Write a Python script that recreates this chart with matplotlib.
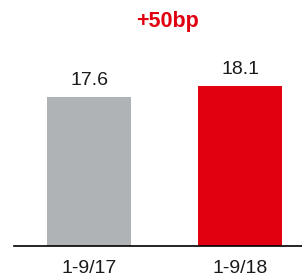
import matplotlib
matplotlib.use('Agg')
import matplotlib.pyplot as plt

periods = ['1-9/17', '1-9/18']
values = [17.6, 18.1]
colors = ['#B0B3B6', '#E1000F']
delta_label = '+50bp'

plt.rcParams['font.family'] = ['Liberation Sans', 'DejaVu Sans']

fig = plt.figure(figsize=(3.02, 2.80), dpi=100)
ax = fig.add_axes([14 / 302, 34 / 280, 288 / 302, 246 / 280])

x = list(range(len(values)))
ax.bar(x, values, width=0.556, color=colors)
for xi, v in zip(x, values):
    ax.annotate(f'{v:.1f}', (xi, v), xytext=(0, 5.5), textcoords='offset points',
                ha='center', va='bottom', fontsize=14, color='#1a1a1a')

ax.set_xlim(-0.497, 1.41)
ax.set_ylim(10.83, 22.01)
ax.set_xticks(x)
ax.set_xticklabels(periods, fontsize=14, color='#1a1a1a')
ax.tick_params(axis='x', length=0, pad=10)
ax.set_yticks([])
for side in ['top', 'left', 'right']:
    ax.spines[side].set_visible(False)
ax.spines['bottom'].set_linewidth(1.2)
ax.spines['bottom'].set_color('black')

fig.text(167 / 302, 1 - 22 / 280, delta_label, ha='center', va='center',
         fontsize=15.5, fontweight='bold', color='#E1000F')

fig.savefig('out.png', dpi=100)
